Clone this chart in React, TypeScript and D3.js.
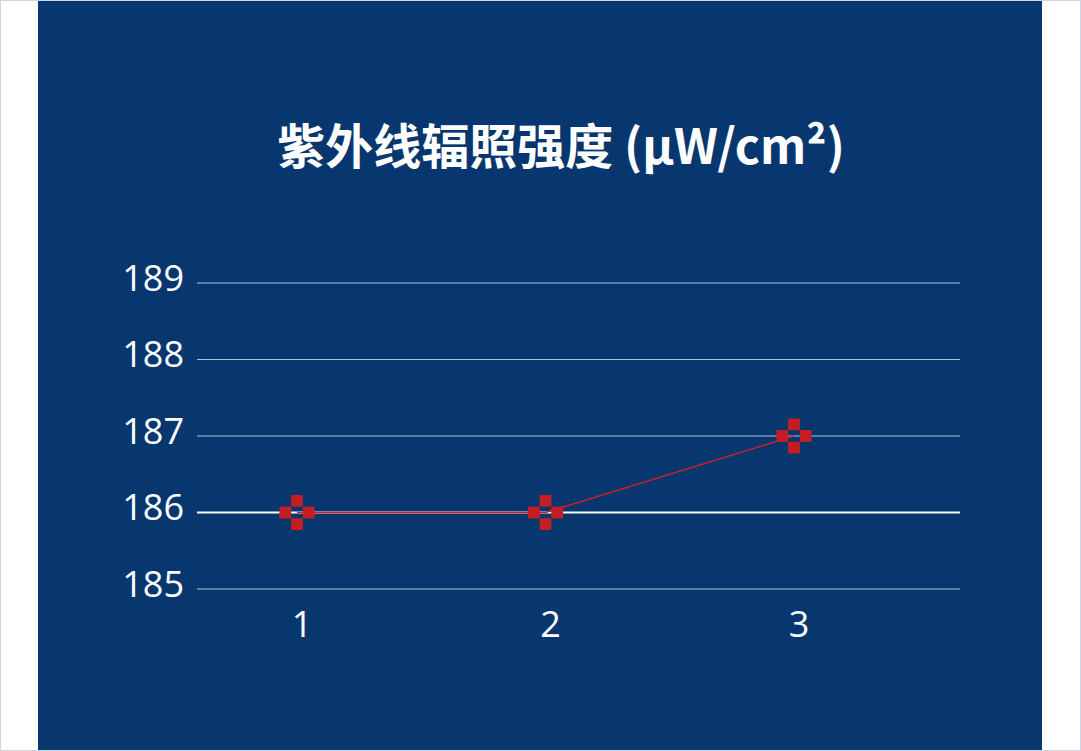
import React from "react";
import * as d3 from "d3";

const categories = ["1", "2", "3"];
const values = [186, 186, 187];
const yTicks = [185, 186, 187, 188, 189];
const title = "紫外线辐照强度 (μW/cm²)";

const W = 1081;
const H = 751;

export default function App() {
  const x = d3.scalePoint<string>().domain(categories).range([297, 794]);
  const y = d3.scaleLinear().domain([185, 189]).range([589, 283]);
  const line = d3
    .line<number>()
    .x((_, i) => x(categories[i]) as number)
    .y((d) => y(d));
  const s = 11.8;
  const off = 11.7;
  return (
    <div style={{ position: "fixed", left: 0, top: 0, width: W, height: H, background: "#fff" }}>
      <svg width={W} height={H} style={{ display: "block" }}>
        <rect x={0.5} y={0.5} width={W - 1} height={H - 1} fill="#fff" stroke="#cdd6e4" strokeWidth={1} />
        <rect x={38} y={1} width={1004} height={749} fill="#08376f" />
        <text
          x={561}
          y={143}
          textAnchor="middle"
          dominantBaseline="central"
          fill="#fff"
          fontFamily="'Noto Sans CJK SC', 'Open Sans', sans-serif"
          fontWeight={700}
          fontSize={48}
        >
          {title}
        </text>
        {yTicks.map((t) => (
          <g key={t}>
            <line
              x1={197}
              x2={960}
              y1={y(t)}
              y2={y(t)}
              stroke={t === 186 ? "#ffffff" : "#b4c0d4"}
              strokeWidth={t === 186 ? 2 : 1}
            />
            <text
              x={184}
              y={y(t) - 6}
              textAnchor="end"
              dominantBaseline="central"
              fill="#fff"
              fontFamily="'Open Sans', sans-serif"
              fontSize={36}
            >
              {t}
            </text>
          </g>
        ))}
        {categories.map((c) => (
          <text
            key={c}
            x={(x(c) as number) + 5}
            y={623}
            textAnchor="middle"
            dominantBaseline="central"
            fill="#fff"
            fontFamily="'Open Sans', sans-serif"
            fontSize={36}
          >
            {c}
          </text>
        ))}
        <path d={line(values) || ""} fill="none" stroke="#c8202a" strokeWidth={1.6} />
        {values.map((v, i) => {
          const cx = x(categories[i]) as number;
          const cy = y(v);
          const offs = [
            [0, -off],
            [0, off],
            [-off, 0],
            [off, 0],
          ];
          return (
            <g key={i}>
              {offs.map(([dx, dy], j) => (
                <rect
                  key={j}
                  x={cx + dx - s / 2}
                  y={cy + dy - s / 2}
                  width={s}
                  height={s}
                  rx={1.2}
                  fill="#c41e24"
                />
              ))}
            </g>
          );
        })}
      </svg>
    </div>
  );
}
